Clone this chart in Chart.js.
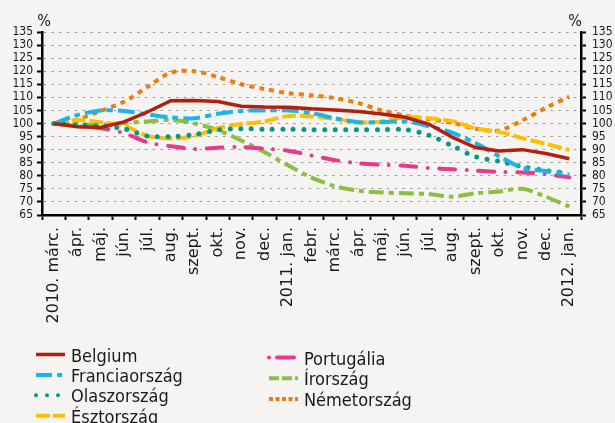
<!DOCTYPE html>
<html lang="hu">
<head>
<meta charset="utf-8">
<title>Index, 2010. márc. = 100</title>
<script src="https://cdn.jsdelivr.net/npm/chart.js@4.4.1/dist/chart.umd.min.js"></script>
<style>
    html, body { margin: 0; padding: 0; background: #f5f4f2; }
    canvas { display: block; }
</style>
</head>
<body>
<canvas id="chart" width="615" height="423"></canvas>
<script>
// Months, March 2010 to January 2012.
var months = ['2010. márc.', 'ápr.', 'máj.', 'jún.', 'júl.', 'aug.', 'szept.', 'okt.', 'nov.', 'dec.',
    '2011. jan.', 'febr.', 'márc.', 'ápr.', 'máj.', 'jún.', 'júl.', 'aug.', 'szept.', 'okt.', 'nov.', 'dec.',
    '2012. jan.'];

// Index values, 2010. márc. = 100.
var belgium = [100, 98.8, 98.5, 100.6, 104.4, 108.7, 108.8, 108.4, 106.6, 106.3, 106.2, 105.6,
    105.2, 104.6, 103.6, 102.4, 99.8, 94.8, 90.8, 89.5, 90, 88.5, 86.5];
var franciaorszag = [100, 103.2, 105, 104.8, 103.5, 102.3, 102, 103.7, 104.8, 105, 105, 104,
    102, 100.5, 100.5, 100.8, 99, 96.5, 92.5, 87.5, 83, 81.8, 80.5];
var olaszorszag = [100, 99.5, 99, 98, 95.2, 95, 95.8, 97.5, 98, 97.8, 97.8, 97.6,
    97.6, 97.6, 97.6, 97.7, 95.5, 91.5, 87.3, 85.5, 83.5, 82, 81];
var esztorszag = [100, 101.3, 100.5, 99.2, 95.2, 94.3, 95.2, 98.2, 99.8, 100.8, 102.9, 102.7,
    101.8, 100.4, 100.8, 102.4, 102, 100.9, 98.2, 96.8, 94.4, 92.2, 89.9];
var portugalia = [100, 99, 98.2, 96.3, 92.8, 91.3, 90.3, 90.7, 91, 90.4, 89.6, 87.8,
    86, 84.8, 84.2, 83.8, 83, 82.5, 82, 81.5, 81.3, 80.6, 79.4];
var irorszag = [100, 99.8, 99.5, 100.2, 100.8, 101.4, 100, 97.5, 93.5, 89, 84, 79.3,
    76, 74.3, 73.6, 73.3, 73, 72, 73.3, 74, 75, 72, 68.2];
var nemetorszag = [100, 101.5, 104.8, 108.3, 114, 119.5, 120, 117.8, 115, 113.2, 111.6, 110.8,
    109.7, 107.8, 105, 103, 101.6, 100.3, 98, 97.3, 101.2, 106, 110.3];

var yMin = 65;
var yMax = 135;
var yStep = 5;

var fontFamily = '"DejaVu Sans Condensed", "DejaVu Sans", sans-serif';
var labelFamily = '"DejaVu Sans", sans-serif';

// Draws the two-column legend under the axis labels and the "%" unit marks.
var sideLegendPlugin = {
    id: 'sideLegend',
    afterDraw: function(chart, _args, options) {
        var ctx = chart.ctx;
        var area = chart.chartArea;
        ctx.save();

        // Unit marks above both axes.
        ctx.fillStyle = '#1a1a1a';
        ctx.font = '16px ' + fontFamily;
        ctx.textAlign = 'center';
        ctx.textBaseline = 'alphabetic';
        ctx.fillText('%', area.left + 2, area.top - 6);
        ctx.fillText('%', area.right - 6, area.top - 6);

        ctx.font = '18px ' + fontFamily;
        ctx.textAlign = 'left';
        chart.data.datasets.forEach(function(ds, i) {
            var col = i < 4 ? 0 : 1;
            var row = col === 0 ? i : i - 4;
            var x = options.left[col];
            var y = options.top[col] + row * options.rowHeight[col];
            ctx.strokeStyle = ds.borderColor;
            ctx.lineWidth = Math.min(ds.borderWidth, 4);
            ctx.lineCap = ds.borderCapStyle || 'butt';
            ctx.setLineDash(ds.legendDash || []);
            ctx.beginPath();
            ctx.moveTo(x, y);
            ctx.lineTo(x + 29, y);
            ctx.stroke();
            ctx.setLineDash([]);
            ctx.fillStyle = '#1a1a1a';
            ctx.fillText(ds.label, x + 35, y + 7);
        });
        ctx.restore();
    }
};

function series(label, data, colour, width, dash, cap, legendDash, tension) {
    return {
        label: label,
        data: data,
        borderColor: colour,
        backgroundColor: colour,
        borderWidth: width,
        borderDash: dash,
        borderCapStyle: cap,
        legendDash: legendDash,
        pointRadius: 0,
        pointHoverRadius: 0,
        tension: tension,
        fill: false
    };
}

var datasets = [
    series('Belgium', belgium, '#b0200c', 3.5, [], 'butt', [], 0),
    series('Franciaország', franciaorszag, '#1cb3e6', 4, [17, 5, 6, 5], 'butt', [16, 5, 5, 5], 0.3),
    series('Olaszország', olaszorszag, '#00998a', 5, [0, 10.5], 'round', [0, 11], 0.3),
    series('Észtország', esztorszag, '#ffbe00', 4, [14, 4], 'butt', [14, 3, 12, 3], 0.3),
    series('Portugália', portugalia, '#e8398b', 4, [16, 11.5, 0, 11.5], 'round', [0, 8, 17, 5], 0.3),
    series('Írország', irorszag, '#8cbf3f', 4, [15, 5, 5, 5], 'butt', [10, 3, 10, 3], 0.3),
    series('Németország', nemetorszag, '#f07d0a', 4, [5, 5], 'butt', [4, 2.5], 0.3)
];

var yTicks = {
    min: yMin,
    max: yMax,
    stepSize: yStep,
    autoSkip: false,
    color: '#1a1a1a',
    font: {family: fontFamily, size: 12, lineHeight: 1},
    padding: 4
};

new Chart(document.getElementById('chart'), {
    type: 'line',
    data: {labels: months, datasets: datasets},
    options: {
        responsive: false,
        animation: false,
        layout: {padding: {top: 32, left: 0, right: 0, bottom: 88}},
        scales: {
            x: {
                type: 'category',
                offset: true,
                grid: {
                    offset: true,
                    drawOnChartArea: false,
                    tickLength: 5,
                    tickWidth: 2,
                    tickColor: '#000'
                },
                border: {color: '#000', width: 2.5},
                ticks: {
                    autoSkip: false,
                    minRotation: 90,
                    maxRotation: 90,
                    padding: 7,
                    color: '#1a1a1a',
                    font: {family: labelFamily, size: 16}
                },
                afterFit: function(scale) { scale.height = 120; }
            },
            y: {
                position: 'left',
                min: yMin,
                max: yMax,
                grid: {
                    color: '#9a9a9a',
                    lineWidth: 1,
                    tickLength: 5,
                    tickWidth: 2,
                    tickColor: '#000',
                    tickBorderDash: []
                },
                border: {color: '#000', width: 2.5, dash: [2.5, 5.3]},
                ticks: yTicks,
                afterFit: function(scale) { scale.width = 42; }
            },
            y2: {
                position: 'right',
                min: yMin,
                max: yMax,
                grid: {
                    drawOnChartArea: false,
                    tickLength: 5,
                    tickWidth: 2,
                    tickColor: '#000'
                },
                border: {color: '#000', width: 2.5},
                ticks: Object.assign({}, yTicks, {padding: 6}),
                afterFit: function(scale) { scale.width = 34; }
            }
        },
        plugins: {
            legend: {display: false},
            tooltip: {enabled: false},
            sideLegend: {
                left: [36, 269],
                top: [354.5, 357.5],
                rowHeight: [20.4, 20.8]
            }
        }
    },
    plugins: [sideLegendPlugin]
});
</script>
</body>
</html>
